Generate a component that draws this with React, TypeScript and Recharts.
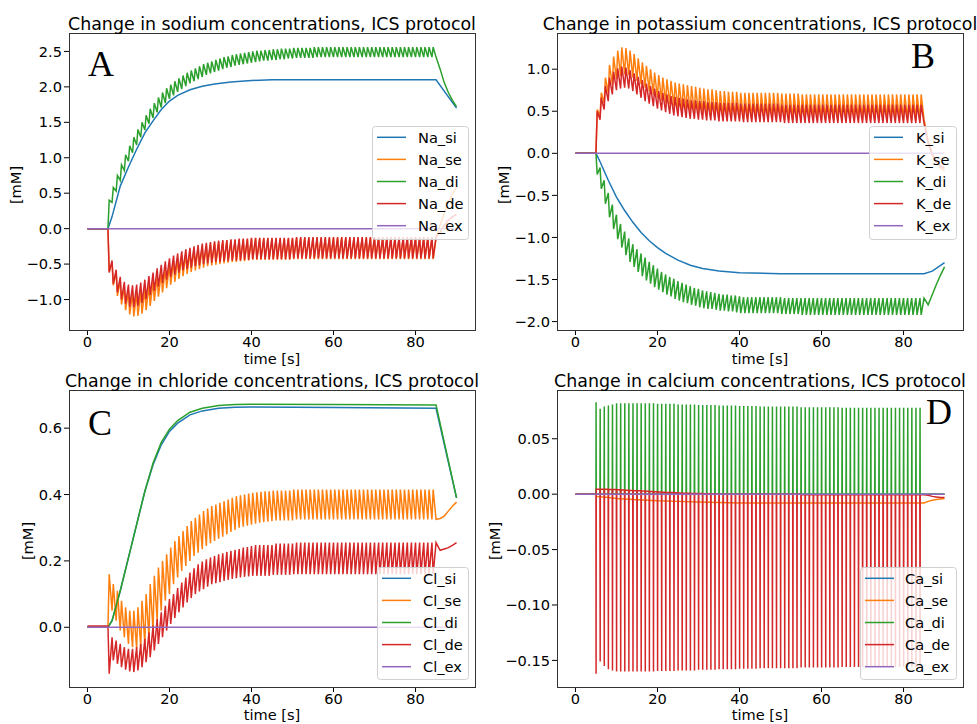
import React from "react";
import { LineChart, Line, XAxis, YAxis } from "recharts";

const COLORS = ["#1f77b4", "#ff7f0e", "#2ca02c", "#d62728", "#9467bd"];
const FONT = "'DejaVu Sans', sans-serif";

// one stimulus per second, from 5 s to 84 s
const stimTimes = Array.from({ length: 80 }, (_, k) => 5 + k);
const tailTimes = [86, 87, 88, 89, 90];
const xTicks = [0, 20, 40, 60, 80];

// ---------- sodium ----------
const naSiT = [0, 5, 6, 8, 10, 12, 14, 16, 18, 20, 22, 25, 28, 31, 35, 40, 45, 85, 90];
const naSiV = [0, 0, 0.17, 0.6, 0.87, 1.12, 1.35, 1.52, 1.68, 1.8, 1.88, 1.96, 2.01, 2.04, 2.07, 2.09, 2.1, 2.1, 1.7];

const naSeDrop = [
  -0.60, -0.80, -0.95, -1.07, -1.15, -1.21, -1.24, -1.23, -1.20, -1.15,
  -1.09, -1.02, -0.96, -0.90, -0.84, -0.79, -0.75, -0.71, -0.67, -0.64,
  -0.61, -0.59, -0.57, -0.55, -0.53, -0.52, -0.51, -0.50, -0.49, -0.48,
  -0.47, -0.47, -0.46, -0.46, -0.45, -0.44, -0.44, -0.44, -0.44, -0.44,
  -0.44, -0.44, -0.44, -0.44, -0.44, -0.43, -0.43, -0.43, -0.43, -0.43,
  -0.43, -0.43, -0.43, -0.43, -0.43, -0.43, -0.43, -0.43, -0.43, -0.43,
  -0.43, -0.43, -0.43, -0.43, -0.43, -0.43, -0.43, -0.43, -0.43, -0.43,
  -0.43, -0.43, -0.43, -0.43, -0.43, -0.43, -0.43, -0.43, -0.43, -0.43,
];
const naSeEnd = [
  -0.48, -0.62, -0.74, -0.83, -0.88, -0.91, -0.91, -0.89, -0.85, -0.80,
  -0.74, -0.68, -0.62, -0.56, -0.51, -0.46, -0.42, -0.38, -0.35, -0.32,
  -0.29, -0.27, -0.25, -0.23, -0.21, -0.20, -0.19, -0.18, -0.17, -0.17,
  -0.16, -0.16, -0.15, -0.15, -0.14, -0.14, -0.14, -0.14, -0.14, -0.14,
  -0.14, -0.14, -0.14, -0.14, -0.14, -0.13, -0.13, -0.13, -0.13, -0.13,
  -0.13, -0.13, -0.13, -0.13, -0.13, -0.13, -0.13, -0.13, -0.13, -0.13,
  -0.13, -0.13, -0.13, -0.13, -0.13, -0.13, -0.13, -0.13, -0.13, -0.13,
  -0.13, -0.13, -0.13, -0.13, -0.13, -0.13, -0.13, -0.13, -0.13, -0.13,
];
const naSeTail = [0.05, 0.22, 0.37, 0.49, 0.58];

const naDiJump = [
  0.40, 0.58, 0.75, 0.90, 1.04, 1.17, 1.29, 1.40, 1.50, 1.60,
  1.69, 1.77, 1.85, 1.92, 1.98, 2.03, 2.08, 2.12, 2.16, 2.20,
  2.23, 2.26, 2.29, 2.32, 2.34, 2.36, 2.38, 2.40, 2.42, 2.43,
  2.45, 2.46, 2.47, 2.48, 2.49, 2.50, 2.51, 2.51, 2.52, 2.52,
  2.53, 2.53, 2.54, 2.54, 2.54, 2.55, 2.55, 2.55, 2.55, 2.55,
  2.56, 2.56, 2.56, 2.56, 2.56, 2.56, 2.56, 2.56, 2.56, 2.56,
  2.56, 2.56, 2.56, 2.56, 2.56, 2.56, 2.56, 2.56, 2.56, 2.56,
  2.56, 2.56, 2.56, 2.56, 2.56, 2.56, 2.56, 2.56, 2.56, 2.56,
];
const naDiEnd = [
  0.37, 0.53, 0.68, 0.82, 0.95, 1.07, 1.18, 1.29, 1.39, 1.48,
  1.56, 1.64, 1.71, 1.77, 1.83, 1.88, 1.93, 1.97, 2.01, 2.05,
  2.08, 2.11, 2.14, 2.17, 2.19, 2.21, 2.23, 2.25, 2.27, 2.28,
  2.30, 2.31, 2.32, 2.33, 2.34, 2.35, 2.36, 2.37, 2.37, 2.38,
  2.38, 2.39, 2.39, 2.40, 2.40, 2.41, 2.41, 2.41, 2.41, 2.41,
  2.42, 2.42, 2.42, 2.42, 2.42, 2.42, 2.42, 2.42, 2.42, 2.42,
  2.42, 2.42, 2.42, 2.42, 2.42, 2.42, 2.42, 2.42, 2.42, 2.42,
  2.42, 2.42, 2.42, 2.42, 2.42, 2.42, 2.42, 2.42, 2.42, 2.42,
];
const naDiTail = [2.25, 2.06, 1.92, 1.81, 1.72];

const naDeDrop = [
  -0.62, -0.78, -0.90, -1.00, -1.06, -1.10, -1.11, -1.09, -1.05, -1.00,
  -0.94, -0.88, -0.82, -0.77, -0.72, -0.68, -0.65, -0.62, -0.59, -0.57,
  -0.55, -0.53, -0.52, -0.50, -0.49, -0.48, -0.47, -0.47, -0.46, -0.46,
  -0.45, -0.45, -0.45, -0.44, -0.44, -0.43, -0.43, -0.43, -0.43, -0.43,
  -0.43, -0.43, -0.43, -0.43, -0.43, -0.42, -0.42, -0.42, -0.42, -0.42,
  -0.42, -0.42, -0.42, -0.42, -0.42, -0.42, -0.42, -0.42, -0.42, -0.42,
  -0.42, -0.42, -0.42, -0.42, -0.42, -0.42, -0.42, -0.42, -0.42, -0.42,
  -0.42, -0.42, -0.42, -0.42, -0.42, -0.42, -0.42, -0.42, -0.42, -0.42,
];
const naDeEnd = [
  -0.45, -0.58, -0.68, -0.75, -0.79, -0.80, -0.79, -0.76, -0.72, -0.67,
  -0.62, -0.56, -0.51, -0.46, -0.42, -0.38, -0.35, -0.32, -0.29, -0.27,
  -0.25, -0.23, -0.21, -0.20, -0.19, -0.18, -0.17, -0.16, -0.16, -0.15,
  -0.15, -0.14, -0.14, -0.14, -0.13, -0.13, -0.13, -0.13, -0.13, -0.13,
  -0.13, -0.13, -0.13, -0.13, -0.13, -0.12, -0.12, -0.12, -0.12, -0.12,
  -0.12, -0.12, -0.12, -0.12, -0.12, -0.12, -0.12, -0.12, -0.12, -0.12,
  -0.12, -0.12, -0.12, -0.12, -0.12, -0.12, -0.12, -0.12, -0.12, -0.12,
  -0.12, -0.12, -0.12, -0.12, -0.12, -0.12, -0.12, -0.12, -0.12, -0.12,
];
const naDeTail = [-0.05, 0.05, 0.12, 0.17, 0.2];

// ---------- potassium ----------
const kSiT = [0, 5, 6, 8, 10, 12, 14, 16, 18, 20, 22, 25, 28, 31, 35, 40, 50, 85, 87, 90];
const kSiV = [0, 0, -0.1, -0.32, -0.52, -0.68, -0.82, -0.94, -1.04, -1.12, -1.19, -1.27, -1.33, -1.37, -1.4, -1.42, -1.43, -1.43, -1.4, -1.3];

const kSeJump = [
  0.52, 0.72, 0.90, 1.05, 1.15, 1.22, 1.26, 1.25, 1.22, 1.18,
  1.13, 1.08, 1.04, 1.00, 0.96, 0.93, 0.90, 0.88, 0.86, 0.84,
  0.83, 0.82, 0.81, 0.80, 0.79, 0.78, 0.77, 0.76, 0.76, 0.75,
  0.74, 0.74, 0.73, 0.73, 0.73, 0.72, 0.72, 0.72, 0.72, 0.72,
  0.72, 0.72, 0.72, 0.72, 0.72, 0.71, 0.71, 0.71, 0.71, 0.71,
  0.70, 0.70, 0.70, 0.70, 0.70, 0.70, 0.70, 0.70, 0.70, 0.70,
  0.70, 0.70, 0.70, 0.70, 0.70, 0.70, 0.70, 0.70, 0.70, 0.70,
  0.70, 0.70, 0.70, 0.70, 0.70, 0.70, 0.70, 0.70, 0.70, 0.70,
];
const kSeEnd = [
  0.45, 0.60, 0.72, 0.82, 0.88, 0.92, 0.94, 0.93, 0.90, 0.86,
  0.82, 0.78, 0.74, 0.70, 0.66, 0.63, 0.60, 0.58, 0.56, 0.54,
  0.52, 0.51, 0.49, 0.48, 0.47, 0.46, 0.45, 0.45, 0.44, 0.44,
  0.43, 0.43, 0.42, 0.42, 0.42, 0.41, 0.41, 0.41, 0.41, 0.41,
  0.41, 0.41, 0.41, 0.41, 0.41, 0.40, 0.40, 0.40, 0.40, 0.40,
  0.40, 0.40, 0.40, 0.40, 0.40, 0.40, 0.40, 0.40, 0.40, 0.40,
  0.40, 0.40, 0.40, 0.40, 0.40, 0.40, 0.40, 0.40, 0.40, 0.40,
  0.40, 0.40, 0.40, 0.40, 0.40, 0.40, 0.40, 0.40, 0.40, 0.40,
];
const kSeTail = [0.15, 0.0, -0.1, -0.17, -0.21];

const kDiDrop = [
  -0.25, -0.42, -0.60, -0.76, -0.90, -1.02, -1.12, -1.21, -1.29, -1.35,
  -1.41, -1.46, -1.51, -1.55, -1.59, -1.62, -1.65, -1.68, -1.70, -1.73,
  -1.75, -1.77, -1.78, -1.80, -1.81, -1.83, -1.84, -1.85, -1.85, -1.86,
  -1.87, -1.87, -1.88, -1.88, -1.89, -1.90, -1.90, -1.90, -1.90, -1.90,
  -1.90, -1.90, -1.90, -1.90, -1.90, -1.91, -1.91, -1.91, -1.91, -1.91,
  -1.92, -1.92, -1.92, -1.92, -1.92, -1.92, -1.92, -1.92, -1.92, -1.92,
  -1.92, -1.92, -1.92, -1.92, -1.92, -1.92, -1.92, -1.92, -1.92, -1.92,
  -1.92, -1.92, -1.92, -1.92, -1.92, -1.92, -1.92, -1.92, -1.92, -1.92,
];
const kDiEnd = [
  -0.17, -0.32, -0.47, -0.61, -0.73, -0.84, -0.93, -1.01, -1.08, -1.14,
  -1.19, -1.24, -1.29, -1.33, -1.37, -1.41, -1.44, -1.47, -1.49, -1.52,
  -1.54, -1.56, -1.58, -1.60, -1.61, -1.63, -1.64, -1.65, -1.66, -1.67,
  -1.68, -1.68, -1.69, -1.69, -1.70, -1.71, -1.71, -1.71, -1.71, -1.71,
  -1.71, -1.71, -1.71, -1.71, -1.71, -1.72, -1.72, -1.72, -1.72, -1.72,
  -1.72, -1.72, -1.72, -1.72, -1.72, -1.72, -1.72, -1.72, -1.72, -1.72,
  -1.72, -1.72, -1.72, -1.72, -1.72, -1.72, -1.72, -1.72, -1.72, -1.72,
  -1.72, -1.72, -1.72, -1.72, -1.72, -1.72, -1.72, -1.72, -1.72, -1.72,
];
const kDiTail = [-1.8, -1.68, -1.56, -1.45, -1.35];

const kDeJump = [
  0.50, 0.66, 0.80, 0.90, 0.97, 1.01, 1.03, 1.02, 0.99, 0.95,
  0.91, 0.87, 0.83, 0.80, 0.77, 0.74, 0.72, 0.70, 0.68, 0.67,
  0.66, 0.65, 0.64, 0.63, 0.63, 0.62, 0.62, 0.61, 0.61, 0.61,
  0.60, 0.60, 0.60, 0.60, 0.60, 0.59, 0.59, 0.59, 0.59, 0.59,
  0.59, 0.59, 0.59, 0.59, 0.59, 0.58, 0.58, 0.58, 0.58, 0.58,
  0.58, 0.58, 0.58, 0.58, 0.58, 0.58, 0.58, 0.58, 0.58, 0.58,
  0.58, 0.58, 0.58, 0.58, 0.58, 0.58, 0.58, 0.58, 0.58, 0.58,
  0.58, 0.58, 0.58, 0.58, 0.58, 0.58, 0.58, 0.58, 0.58, 0.58,
];
const kDeEnd = [
  0.40, 0.52, 0.62, 0.70, 0.75, 0.77, 0.78, 0.77, 0.74, 0.70,
  0.66, 0.62, 0.59, 0.56, 0.53, 0.51, 0.49, 0.47, 0.45, 0.44,
  0.43, 0.42, 0.41, 0.41, 0.40, 0.40, 0.39, 0.39, 0.39, 0.38,
  0.38, 0.38, 0.38, 0.38, 0.38, 0.37, 0.37, 0.37, 0.37, 0.37,
  0.37, 0.37, 0.37, 0.37, 0.37, 0.36, 0.36, 0.36, 0.36, 0.36,
  0.36, 0.36, 0.36, 0.36, 0.36, 0.36, 0.36, 0.36, 0.36, 0.36,
  0.36, 0.36, 0.36, 0.36, 0.36, 0.36, 0.36, 0.36, 0.36, 0.36,
  0.36, 0.36, 0.36, 0.36, 0.36, 0.36, 0.36, 0.36, 0.36, 0.36,
];
const kDeTail = [0.12, -0.02, -0.1, -0.15, -0.18];

// ---------- chloride ----------
const clSiT = [0, 5, 6, 8, 10, 12, 14, 16, 18, 20, 22, 25, 28, 32, 36, 40, 60, 85, 90];
const clSiV = [0, 0, 0.02, 0.11, 0.21, 0.31, 0.41, 0.49, 0.55, 0.59, 0.615, 0.64, 0.652, 0.66, 0.663, 0.664, 0.662, 0.66, 0.39];
const clDiV = [0, 0, 0.02, 0.11, 0.21, 0.31, 0.41, 0.495, 0.557, 0.597, 0.623, 0.648, 0.66, 0.668, 0.671, 0.672, 0.671, 0.67, 0.39];

const clSeJump = [
  0.16, 0.13, 0.11, 0.08, 0.06, 0.05, 0.05, 0.06, 0.08, 0.10,
  0.13, 0.155, 0.18, 0.20, 0.22, 0.24, 0.26, 0.275, 0.29, 0.305,
  0.32, 0.33, 0.34, 0.35, 0.358, 0.365, 0.37, 0.375, 0.38, 0.385,
  0.39, 0.395, 0.398, 0.40, 0.403, 0.405, 0.407, 0.408, 0.41, 0.41,
  0.412, 0.412, 0.412, 0.412, 0.412, 0.415, 0.415, 0.415, 0.415, 0.415,
  0.415, 0.415, 0.415, 0.415, 0.415, 0.415, 0.415, 0.415, 0.415, 0.415,
  0.415, 0.415, 0.415, 0.415, 0.415, 0.415, 0.415, 0.415, 0.415, 0.415,
  0.415, 0.415, 0.415, 0.415, 0.415, 0.415, 0.415, 0.415, 0.415, 0.415,
];
const clSeEnd = [
  0.05, 0.02, -0.01, -0.03, -0.05, -0.06, -0.065, -0.06, -0.05, -0.03,
  -0.01, 0.02, 0.05, 0.08, 0.10, 0.13, 0.15, 0.17, 0.185, 0.20,
  0.215, 0.225, 0.235, 0.245, 0.253, 0.26, 0.267, 0.273, 0.28, 0.287,
  0.293, 0.30, 0.303, 0.306, 0.309, 0.312, 0.315, 0.317, 0.318, 0.32,
  0.322, 0.322, 0.322, 0.322, 0.322, 0.325, 0.325, 0.325, 0.325, 0.325,
  0.325, 0.325, 0.325, 0.325, 0.325, 0.325, 0.325, 0.325, 0.325, 0.325,
  0.325, 0.325, 0.325, 0.325, 0.325, 0.325, 0.325, 0.325, 0.325, 0.325,
  0.325, 0.325, 0.325, 0.325, 0.325, 0.325, 0.325, 0.325, 0.325, 0.325,
];
const clSeTail = [0.328, 0.335, 0.35, 0.365, 0.377];

const clDeDrop = [
  -0.14, -0.10, -0.11, -0.12, -0.128, -0.133, -0.135, -0.13, -0.12, -0.105,
  -0.09, -0.07, -0.05, -0.03, -0.01, 0.01, 0.028, 0.045, 0.06, 0.075,
  0.088, 0.10, 0.108, 0.115, 0.122, 0.13, 0.133, 0.136, 0.14, 0.143,
  0.146, 0.148, 0.15, 0.152, 0.153, 0.155, 0.155, 0.155, 0.155, 0.155,
  0.158, 0.158, 0.158, 0.158, 0.158, 0.16, 0.16, 0.16, 0.16, 0.16,
  0.16, 0.16, 0.16, 0.16, 0.16, 0.16, 0.16, 0.16, 0.16, 0.16,
  0.16, 0.16, 0.16, 0.16, 0.16, 0.16, 0.16, 0.16, 0.16, 0.16,
  0.16, 0.16, 0.16, 0.16, 0.16, 0.16, 0.16, 0.16, 0.16, 0.16,
];
const clDeEnd = [
  -0.03, -0.04, -0.05, -0.06, -0.065, -0.065, -0.06, -0.05, -0.035, -0.015,
  0.005, 0.025, 0.045, 0.065, 0.085, 0.10, 0.118, 0.135, 0.15, 0.165,
  0.178, 0.19, 0.198, 0.205, 0.21, 0.215, 0.22, 0.223, 0.227, 0.23,
  0.233, 0.236, 0.24, 0.242, 0.245, 0.248, 0.248, 0.248, 0.248, 0.248,
  0.252, 0.252, 0.252, 0.252, 0.252, 0.255, 0.255, 0.255, 0.255, 0.255,
  0.255, 0.255, 0.255, 0.255, 0.255, 0.255, 0.255, 0.255, 0.255, 0.255,
  0.255, 0.255, 0.255, 0.255, 0.255, 0.255, 0.255, 0.255, 0.255, 0.255,
  0.255, 0.255, 0.255, 0.255, 0.255, 0.255, 0.255, 0.255, 0.255, 0.255,
];
const clDeTail = [0.232, 0.236, 0.24, 0.247, 0.255];

// ---------- calcium ----------
const caSeT = [0, 5, 5.2, 8, 10, 15, 20, 25, 30, 40, 85, 86, 87, 88, 90];
const caSeV = [0, 0, -0.002, -0.003, -0.004, -0.005, -0.006, -0.0065, -0.007, -0.008, -0.008, -0.0065, -0.0055, -0.0048, -0.004];

const caDiBase = [
  0, 0, 0, 0, 0, 0, 0, 0, 0, 0,
  0, 0, 0, 0, 0, 0, 0, 0, 0, 0,
  0, 0, 0, 0, 0, 0, 0, 0, 0, 0,
  0, 0, 0, 0, 0, 0, 0, 0, 0, 0,
  0, 0, 0, 0, 0, 0, 0, 0, 0, 0,
  0, 0, 0, 0, 0, 0, 0, 0, 0, 0,
  0, 0, 0, 0, 0, 0, 0, 0, 0, 0,
  0, 0, 0, 0, 0, 0, 0, 0, 0, 0,
];
const caDiPeak = [
  0.083, 0.077, 0.079, 0.080, 0.081, 0.082, 0.082, 0.082, 0.082, 0.082,
  0.082, 0.082, 0.082, 0.082, 0.082, 0.0815, 0.0815, 0.0815, 0.0815, 0.0815,
  0.081, 0.081, 0.081, 0.081, 0.081, 0.0805, 0.0805, 0.0805, 0.0805, 0.0805,
  0.080, 0.080, 0.080, 0.080, 0.080, 0.0795, 0.0795, 0.0795, 0.0795, 0.0795,
  0.079, 0.079, 0.079, 0.079, 0.079, 0.079, 0.079, 0.079, 0.079, 0.079,
  0.0785, 0.0785, 0.0785, 0.0785, 0.0785, 0.0785, 0.0785, 0.0785, 0.0785, 0.0785,
  0.078, 0.078, 0.078, 0.078, 0.078, 0.078, 0.078, 0.078, 0.078, 0.078,
  0.078, 0.078, 0.078, 0.078, 0.078, 0.078, 0.078, 0.078, 0.078, 0.078,
];
const caDiTail = [0, 0, 0, 0, 0];

const caDeBase = [
  0.0045, 0.0045, 0.0044, 0.0043, 0.0042, 0.004, 0.0038, 0.0036, 0.0034, 0.0032,
  0.003, 0.0028, 0.0026, 0.0024, 0.0022, 0.002, 0.0018, 0.0016, 0.0014, 0.0012,
  0.001, 0.0009, 0.0008, 0.0007, 0.0006, 0.0005, 0.0004, 0.0003, 0.0002, 0.0001,
  0, 0, 0, 0, 0, 0, 0, 0, 0, 0,
  0, 0, 0, 0, 0, 0, 0, 0, 0, 0,
  -0.0005, -0.0005, -0.0005, -0.0005, -0.0005, -0.0005, -0.0005, -0.0005, -0.0005, -0.0005,
  -0.0005, -0.0005, -0.0005, -0.0005, -0.0005, -0.0005, -0.0005, -0.0005, -0.0005, -0.0005,
  -0.0005, -0.0005, -0.0005, -0.0005, -0.0005, -0.0005, -0.0005, -0.0005, -0.0005, -0.0005,
];
const caDeTrough = [
  -0.162, -0.151, -0.155, -0.158, -0.159, -0.16, -0.16, -0.16, -0.16, -0.16,
  -0.16, -0.16, -0.16, -0.16, -0.16, -0.1595, -0.1595, -0.1595, -0.1595, -0.1595,
  -0.159, -0.159, -0.159, -0.159, -0.159, -0.1585, -0.1585, -0.1585, -0.1585, -0.1585,
  -0.158, -0.158, -0.158, -0.158, -0.158, -0.1575, -0.1575, -0.1575, -0.1575, -0.1575,
  -0.157, -0.157, -0.157, -0.157, -0.157, -0.157, -0.157, -0.157, -0.157, -0.157,
  -0.1565, -0.1565, -0.1565, -0.1565, -0.1565, -0.1565, -0.1565, -0.1565, -0.1565, -0.1565,
  -0.156, -0.156, -0.156, -0.156, -0.156, -0.156, -0.156, -0.156, -0.156, -0.156,
  -0.156, -0.156, -0.156, -0.156, -0.156, -0.156, -0.156, -0.156, -0.156, -0.156,
];
const caDeTail = [-0.001, -0.002, -0.0025, -0.003, -0.003];

const flatT = [0, 90];
const flatV = [0, 0];

// ---------- builders ----------
type Pt = { t: number; v: number };

const smooth = (ts: number[], vs: number[]): Pt[] => ts.map((t, i) => ({ t, v: vs[i] }));

// value jumps at each stimulus, then drifts until the next one
const sawtooth = (first: number[], end: number[], tail: number[], pre = 0): Pt[] => {
  const pts: Pt[] = [{ t: 0, v: pre }, { t: 5, v: pre }];
  stimTimes.forEach((t0, k) => {
    pts.push({ t: t0 + 0.3, v: first[k] }, { t: t0 + 1, v: end[k] });
  });
  tailTimes.forEach((t, i) => pts.push({ t, v: tail[i] }));
  return pts;
};

// narrow spike at each stimulus on top of a baseline
const spikes = (base: number[], peak: number[], tail: number[]): Pt[] => {
  const pts: Pt[] = [{ t: 0, v: 0 }, { t: 5, v: 0 }];
  stimTimes.forEach((t0, k) => {
    pts.push({ t: t0 + 0.03, v: peak[k] }, { t: t0 + 0.07, v: base[k] }, { t: t0 + 0.97, v: base[k] });
  });
  tailTimes.forEach((t, i) => pts.push({ t, v: tail[i] }));
  return pts;
};

const fmt = (d: number) => (v: number) => v.toFixed(d).replace("-", "\u2212");

const PANELS = [
  {
    key: "A", title: "Change in sodium concentrations, ICS protocol",
    left: 0, top: 0, width: 490, height: 360,
    margin: { top: 33, right: 15, bottom: 0, left: 9 },
    plot: { x: 69, y: 33 },
    domain: [-1.43, 2.76], ticks: [-1, -0.5, 0, 0.5, 1, 1.5, 2, 2.5], fmt: fmt(1),
    letter: { x: 88, y: 76 }, xlab: 364, ylab: { x: 21, y: 185 },
    legend: { x: 372, y: 126, w: 96, h: 113, tx: 46 },
    names: ["Na_si", "Na_se", "Na_di", "Na_de", "Na_ex"],
    series: [
      smooth(naSiT, naSiV),
      sawtooth(naSeDrop, naSeEnd, naSeTail),
      sawtooth(naDiJump, naDiEnd, naDiTail),
      sawtooth(naDeDrop, naDeEnd, naDeTail),
      smooth(flatT, flatV),
    ],
  },
  {
    key: "B", title: "Change in potassium concentrations, ICS protocol",
    left: 490, top: 0, width: 487, height: 360,
    margin: { top: 33, right: 14, bottom: 0, left: 7 },
    plot: { x: 557, y: 33 },
    domain: [-2.1, 1.43], ticks: [-2, -1.5, -1, -0.5, 0, 0.5, 1], fmt: fmt(1),
    letter: { x: 911, y: 68 }, xlab: 364, ylab: { x: 509, y: 185 },
    legend: { x: 869, y: 126, w: 87, h: 113, tx: 47 },
    names: ["K_si", "K_se", "K_di", "K_de", "K_ex"],
    series: [
      smooth(kSiT, kSiV),
      sawtooth(kSeJump, kSeEnd, kSeTail),
      sawtooth(kDiDrop, kDiEnd, kDiTail),
      sawtooth(kDeJump, kDeEnd, kDeTail),
      smooth(flatT, flatV),
    ],
  },
  {
    key: "C", title: "Change in chloride concentrations, ICS protocol",
    left: 0, top: 360, width: 490, height: 364,
    margin: { top: 30, right: 15, bottom: 7, left: 9 },
    plot: { x: 69, y: 390 },
    domain: [-0.18, 0.715], ticks: [0, 0.2, 0.4, 0.6], fmt: fmt(1),
    letter: { x: 88, y: 435 }, xlab: 720, ylab: { x: 33, y: 541 },
    legend: { x: 377, y: 567, w: 91, h: 112, tx: 46 },
    names: ["Cl_si", "Cl_se", "Cl_di", "Cl_de", "Cl_ex"],
    series: [
      smooth(clSiT, clSiV),
      sawtooth(clSeJump, clSeEnd, clSeTail),
      smooth(clSiT, clDiV),
      sawtooth(clDeDrop, clDeEnd, clDeTail, 0.004),
      smooth(flatT, flatV),
    ],
  },
  {
    key: "D", title: "Change in calcium concentrations, ICS protocol",
    left: 490, top: 360, width: 487, height: 364,
    margin: { top: 30, right: 14, bottom: 7, left: 7 },
    plot: { x: 557, y: 390 },
    domain: [-0.174, 0.094], ticks: [-0.15, -0.1, -0.05, 0, 0.05], fmt: fmt(2),
    letter: { x: 926, y: 424 }, xlab: 720, ylab: { x: 500, y: 541 },
    legend: { x: 860, y: 567, w: 96, h: 112, tx: 45 },
    names: ["Ca_si", "Ca_se", "Ca_di", "Ca_de", "Ca_ex"],
    series: [
      smooth(flatT, flatV),
      smooth(caSeT, caSeV),
      spikes(caDiBase, caDiPeak, caDiTail),
      spikes(caDeBase, caDeTrough, caDeTail),
      smooth(flatT, flatV),
    ],
  },
];

const PLOT_W = 406;
const PLOT_H = 297;
const tickStyle = { fontSize: 14.6, fill: "#000", fontFamily: FONT };

const Panel = ({ p }: { p: (typeof PANELS)[number] }) => (
  <div style={{ position: "absolute", left: p.left, top: p.top }}>
    <LineChart width={p.width} height={p.height} margin={p.margin}>
      <XAxis
        type="number"
        dataKey="t"
        domain={[-4.5, 94.5]}
        ticks={xTicks}
        interval={0}
        allowDataOverflow
        axisLine={false}
        tickLine={{ stroke: "#000" }}
        tickSize={5}
        height={30}
        tick={tickStyle}
      />
      <YAxis
        type="number"
        domain={p.domain}
        ticks={p.ticks}
        interval={0}
        allowDataOverflow
        width={60}
        axisLine={false}
        tickLine={{ stroke: "#000" }}
        tickSize={5}
        tickFormatter={p.fmt}
        tick={tickStyle}
      />
      {p.series.map((data, i) => (
        <Line
          key={p.names[i]}
          data={data}
          dataKey="v"
          type="linear"
          stroke={COLORS[i]}
          strokeWidth={1.5}
          dot={false}
          activeDot={false}
          isAnimationActive={false}
        />
      ))}
    </LineChart>
  </div>
);

const Decorations = () => (
  <svg width={977} height={724} style={{ position: "absolute", left: 0, top: 0, pointerEvents: "none" }}>
    {PANELS.map((p) => {
      const cx = p.plot.x + PLOT_W / 2;
      const lg = p.legend;
      return (
        <g key={p.key}>
          <rect x={p.plot.x + 0.5} y={p.plot.y + 0.5} width={PLOT_W} height={PLOT_H} fill="none" stroke="#333" strokeWidth={1} />
          <text x={cx} y={p.plot.y - 3} textAnchor="middle" fontSize={17.4} fontFamily={FONT} fill="#000">
            {p.title}
          </text>
          <text x={p.letter.x} y={p.letter.y} fontSize={36} fontFamily="'Liberation Serif', serif" fill="#000">
            {p.key}
          </text>
          <text x={cx} y={p.xlab} textAnchor="middle" fontSize={14.6} fontFamily={FONT} fill="#000">
            time [s]
          </text>
          <text
            x={p.ylab.x}
            y={p.ylab.y}
            textAnchor="middle"
            fontSize={14.6}
            fontFamily={FONT}
            fill="#000"
            transform={`rotate(-90 ${p.ylab.x} ${p.ylab.y})`}
          >
            [mM]
          </text>
          <rect x={lg.x + 0.5} y={lg.y + 0.5} width={lg.w} height={lg.h} rx={3} fill="rgba(255,255,255,0.8)" stroke="#d0d0d0" />
          {p.names.map((n, i) => {
            const y = lg.y + 11.3 + i * 22.1;
            return (
              <g key={n}>
                <line x1={lg.x + 5} x2={lg.x + 34} y1={y} y2={y} stroke={COLORS[i]} strokeWidth={1.5} />
                <text x={lg.x + lg.tx} y={y} dy="0.36em" fontSize={14.6} fontFamily={FONT} fill="#000">
                  {n}
                </text>
              </g>
            );
          })}
        </g>
      );
    })}
  </svg>
);

export default function App() {
  return (
    <div style={{ position: "absolute", left: 0, top: 0, width: 977, height: 724, background: "#fff" }}>
      {PANELS.map((p) => (
        <Panel key={p.key} p={p} />
      ))}
      <Decorations />
    </div>
  );
}
